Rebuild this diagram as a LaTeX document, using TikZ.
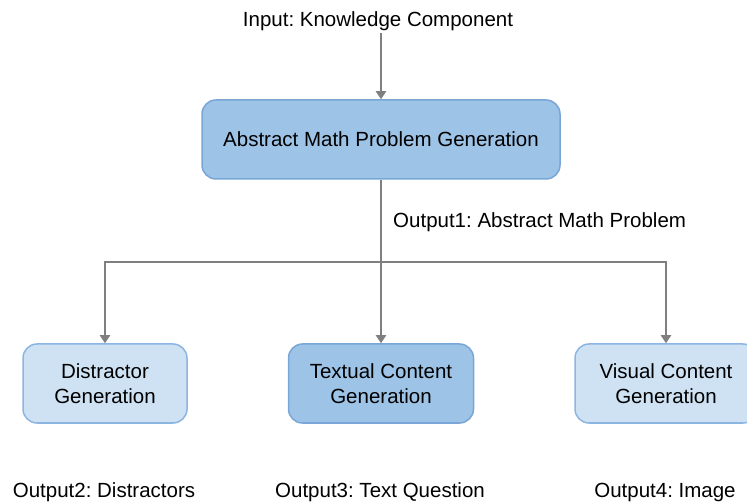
\documentclass[tikz,border=0pt]{standalone}
\usepackage{fontspec}
\setmainfont{Liberation Sans}
\usetikzlibrary{arrows.meta}
\definecolor{darkfill}{HTML}{9DC3E6}
\definecolor{darkline}{HTML}{79A6D6}
\definecolor{lightfill}{HTML}{CFE2F3}
\definecolor{lightline}{HTML}{8DB5E2}
\definecolor{arrowgray}{HTML}{7F7F7F}
\begin{document}
\frenchspacing
\begin{tikzpicture}[x=1pt,y=-1pt,
 box/.style={draw, line width=1.5pt, rounded corners=14pt, align=center, font=\fontsize{20.5}{24.5}\selectfont, inner sep=0pt},
 darkbox/.style={box, fill=darkfill, draw=darkline},
 lightbox/.style={box, fill=lightfill, draw=lightline},
 lbl/.style={font=\fontsize{20.5}{24}\selectfont, inner sep=0pt, anchor=base},
 conn/.style={draw=arrowgray, line width=2pt},
 arr/.style={conn, -{Triangle[length=8pt,width=10pt]}}]
\useasboundingbox (0,0) rectangle (747,502);
\node[lbl] (in) at (378,27) {Input: Knowledge Component};
\node[darkbox, minimum width=358pt, minimum height=79pt] (amp) at (381,139.5) {Abstract Math Problem Generation};
\node[lightbox, minimum width=164pt, minimum height=79pt] (dis) at (105,383.5) {Distractor\\Generation};
\node[darkbox, minimum width=185pt, minimum height=79pt] (txt) at (381,383.5) {Textual Content\\Generation};
\node[lightbox, minimum width=182pt, minimum height=79pt] (vis) at (666,383.5) {Visual Content\\Generation};
\node[lbl, anchor=base west] (o1) at (393,228) {Output1: Abstract Math Problem};
\node[lbl] (o2) at (104,497) {Output2: Distractors};
\node[lbl] (o3) at (380,497) {Output3: Text Question};
\node[lbl] (o4) at (665,497) {Output4: Image};
\coordinate (j) at (381,262);
\coordinate (t) at (381,33);
\draw[arr] (t) -- (amp.north);
\draw[conn] (amp.south) -- (j);
\draw[arr] (j) -- (txt.north);
\draw[arr] (j) -| (dis.north);
\draw[arr] (j) -| (vis.north);
\end{tikzpicture}
\end{document}
